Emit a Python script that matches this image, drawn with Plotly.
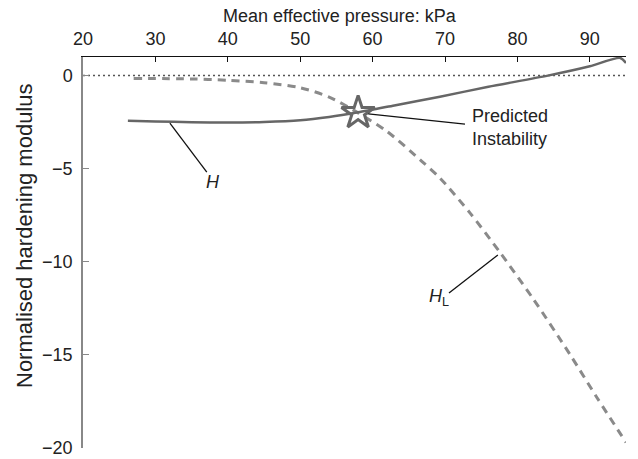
import plotly.graph_objects as go

# Data
p_H = [26.2, 30, 35, 40, 45, 50, 54, 58, 63, 69.3, 76, 84.2, 90, 94.2, 95]
H = [-2.43, -2.46, -2.5, -2.52, -2.49, -2.4, -2.22, -1.97, -1.6, -1.13, -0.6, 0.0, 0.5, 0.95, 0.68]

p_HL = [27, 35, 40, 45, 50, 54, 58, 62, 66.8, 69.3, 73.5, 77.6, 82.2, 87.3, 91, 95]
HL = [-0.15, -0.18, -0.25, -0.38, -0.65, -1.15, -2.0, -3.0, -4.6, -5.5, -7.4, -9.5, -12.0, -15.0, -17.3, -19.7]

zero_x = [20, 95]
zero_y = [0, 0]

instab_p = [58]
instab_h = [-2.0]

x_ticks = [20, 30, 40, 50, 60, 70, 80, 90]
y_ticks = [0, -5, -10, -15, -20]
y_ticktext = ["0", "\u22125", "\u221210", "\u221215", "\u221220"]

FONT = "Liberation Sans, Arial, sans-serif"
TXT = "#222222"

W, H_PX = 638, 459
ML, MR, MT, MB = 83, 12, 57, 11
PW, PH = W - ML - MR, H_PX - MT - MB


def px_to_paper(px, py):
    return (px - ML) / PW, 1 - (py - MT) / PH


fig = go.Figure()
fig.add_trace(go.Scatter(x=zero_x, y=zero_y, mode="lines",
                         line=dict(color="#555555", width=1.5, dash="2px,3px"),
                         hoverinfo="skip", showlegend=False))
fig.add_trace(go.Scatter(x=p_HL, y=HL, mode="lines", line_shape="spline",
                         line=dict(color="#8a8a8a", width=3, dash="8px,6px", smoothing=0.8),
                         showlegend=False))
fig.add_trace(go.Scatter(x=p_H, y=H, mode="lines", line_shape="spline",
                         line=dict(color="#666666", width=2.5, smoothing=0.7),
                         showlegend=False))
fig.add_trace(go.Scatter(x=instab_p, y=instab_h, mode="markers",
                         marker=dict(symbol="star-open", size=25, color="#666666",
                                     line=dict(color="#666666", width=3)),
                         showlegend=False))

# Leader lines
leaders = [
    ((32.0, -2.55), (37.1, -5.18)),
    ((77.3, -9.64), (70.55, -11.68)),
    ((59.4, -2.06), (72.76, -2.6)),
]
for (x0, y0), (x1, y1) in leaders:
    fig.add_shape(type="line", x0=x0, y0=y0, x1=x1, y1=y1, xref="x", yref="y",
                  line=dict(color="#111111", width=1.3))

fig.add_annotation(x=38.0, y=-5.7, text="<i>H</i>", showarrow=False,
                   font=dict(family=FONT, size=18, color=TXT))
fig.add_annotation(x=70.8, y=-11.9, text="<i>H</i><sub>L</sub>", showarrow=False,
                   xanchor="right", font=dict(family=FONT, size=18, color=TXT))
fig.add_annotation(x=73.4, y=-2.78, text="Predicted<br>Instability", showarrow=False,
                   xanchor="left", align="left", font=dict(family=FONT, size=18, color=TXT))

# Axis titles placed in pixel positions
tx, ty = px_to_paper(340, 16)
fig.add_annotation(x=tx, y=ty, xref="paper", yref="paper", xanchor="center", yanchor="middle",
                   text="Mean effective pressure: kPa", showarrow=False,
                   font=dict(family=FONT, size=18, color=TXT))
lx, ly = px_to_paper(24, 236)
fig.add_annotation(x=lx, y=ly, xref="paper", yref="paper", xanchor="center", yanchor="middle",
                   text="Normalised hardening modulus", showarrow=False, textangle=-90,
                   font=dict(family=FONT, size=22, color=TXT))

fig.update_layout(
    width=W, height=H_PX,
    margin=dict(l=ML, r=MR, t=MT, b=MB),
    paper_bgcolor="white", plot_bgcolor="white",
    font=dict(family=FONT, size=18, color=TXT),
    xaxis=dict(side="top", range=[20, 95], tickvals=x_ticks, ticks="inside", ticklen=5,
               tickcolor="#111111", showline=True, linecolor="#111111", linewidth=1.2,
               showgrid=False, zeroline=False, ticklabelstandoff=4, automargin=False),
    yaxis=dict(range=[-20, 1], tickvals=y_ticks, ticktext=y_ticktext, ticks="inside",
               ticklen=6, tickcolor="#888888", showline=True, linecolor="#888888",
               linewidth=1.5, showgrid=False, zeroline=False, ticklabelstandoff=5,
               automargin=False),
)

fig.write_html("out.html", config={"displayModeBar": False},
               post_script="document.body.style.margin='0';document.body.style.padding='0';")
